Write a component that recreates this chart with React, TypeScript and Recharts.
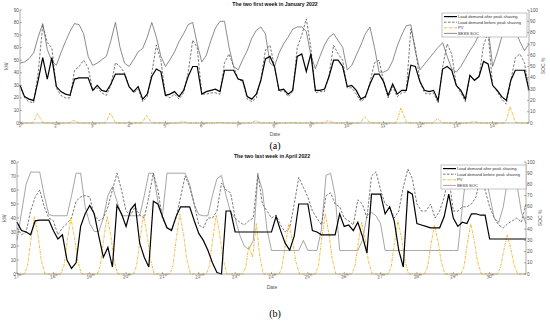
import React from 'react';
import { LineChart, Line, XAxis, YAxis } from 'recharts';

const FONT = '"Liberation Sans", Arial, sans-serif';

// ---------- Panel (a): first two weeks of January 2022 (3-hour samples, kW) ----------
const janAfter = [
  30, 21, 19, 18, 34, 52, 35, 52,
  29, 25, 23, 22, 35, 36, 36, 36,
  26, 30, 26, 25, 31, 39, 39, 39,
  29, 25, 29, 19, 23, 37, 43, 41,
  22, 23, 25, 21, 26, 37, 45, 45,
  23, 25, 26, 27, 25, 42, 42, 42,
  35, 34, 21, 19, 23, 34, 51, 53,
  45, 26, 27, 23, 26, 53, 55, 41,
  55, 26, 26, 27, 37, 50, 50, 45,
  29, 30, 26, 19, 21, 31, 39, 39,
  33, 22, 31, 23, 26, 26, 46, 45,
  33, 26, 25, 26, 18, 43, 45, 42,
  30, 26, 19, 38, 34, 37, 49, 47,
  30, 26, 21, 18, 34, 42, 42, 42,
  26,
];
const janBefore = [
  30, 20, 17, 16, 40, 78, 64, 60,
  28, 22, 20, 20, 42, 45, 50, 44,
  26, 28, 24, 22, 30, 48, 45, 40,
  29, 24, 27, 17, 21, 40, 62, 50,
  22, 20, 23, 19, 24, 40, 66, 60,
  23, 23, 24, 24, 23, 48, 55, 45,
  35, 33, 19, 17, 20, 35, 58, 62,
  45, 25, 26, 21, 25, 60, 70, 83,
  60, 24, 25, 25, 38, 62, 55, 50,
  28, 28, 23, 17, 20, 32, 48, 50,
  33, 20, 29, 21, 24, 25, 75, 60,
  33, 24, 23, 24, 16, 45, 63, 55,
  30, 24, 17, 38, 34, 37, 62, 72,
  30, 25, 19, 15, 34, 52, 55, 48,
  26,
];
// SOC in %
const janSoc = [
  53, 54, 57, 62, 76, 88, 65, 55,
  51, 62, 72, 81, 88, 87, 79, 59,
  51, 53, 56, 59, 73, 89, 67, 53,
  50, 56, 63, 66, 76, 89, 76, 59,
  50, 56, 63, 72, 79, 87, 89, 70,
  54, 60, 73, 84, 90, 90, 67, 50,
  47, 56, 64, 75, 82, 85, 79, 53,
  50, 62, 70, 76, 83, 85, 85, 81,
  60, 48, 59, 69, 76, 79, 73, 67,
  47, 51, 60, 69, 79, 85, 67, 45,
  45, 47, 55, 68, 78, 86, 87, 63,
  47, 52, 57, 62, 67, 71, 59, 48,
  45, 50, 57, 64, 70, 78, 82, 84,
  50, 62, 76, 88, 96, 82, 72, 64,
  70,
];
const janPvHours = [0, 8, 9.5, 10.5, 11.5, 13, 15, 18];
const janPv = [
  0, 0, 2, 5, 7.5, 4.5, 0.3, 0,
  0, 0, 0.6, 1.4, 2, 1.2, 0.1, 0,
  0, 0, 2.4, 5.6, 8, 4.8, 0.4, 0,
  0, 0, 1.8, 4.2, 6, 3.6, 0.3, 0,
  0, 0, 0.5, 1, 1.5, 0.9, 0.1, 0,
  0, 0, 0.2, 0.4, 0.5, 0.3, 0, 0,
  0, 0, 0.6, 1.4, 2, 1.2, 0.1, 0,
  0, 0, 0.1, 0.2, 0.3, 0.2, 0, 0,
  0, 0, 0.6, 1.4, 2, 1.2, 0.1, 0,
  0, 0, 1.5, 3.5, 5, 3, 0.3, 0,
  0, 0, 3.6, 8.4, 12, 7.2, 0.6, 0,
  0, 0, 1, 2.5, 3.5, 2.1, 0.2, 0,
  0, 0, 0.5, 1, 1.5, 0.9, 0.1, 0,
  0, 0, 3.9, 9, 13, 7.8, 0.6, 0,
  0,
];

// ---------- Panel (b): last two weeks of April 2022 ----------
const aprAfter = [
  37, 31, 30, 28, 38, 38.5, 38.5, 38.5,
  31, 25, 28, 10, 4, 8, 34, 43,
  49, 43, 27, 12, 19, 5, 49, 43,
  34, 46, 50, 22, 12, 5, 52, 50,
  41, 33, 31, 41, 48, 48, 48, 38,
  29, 24, 17, 8, 1, 0, 45, 45,
  30, 30, 30, 30, 30, 30, 30, 30,
  30, 41, 31, 22, 17, 27, 50, 50,
  50, 31, 30, 28, 28, 28, 28, 43,
  34, 35, 31, 37, 27, 15, 57, 57,
  57, 43, 48, 38, 17, 5, 59, 57,
  36, 35, 34, 33, 33, 33, 41, 57,
  40, 34, 37, 36, 43, 43, 42, 42,
  25, 25, 25, 25, 25, 25, 25, 25,
  25,
];
const aprBefore = [
  33, 28, 30, 45, 55, 60, 48, 40,
  38, 28, 33, 36, 40, 52, 55, 56,
  55, 42, 38, 40, 48, 60, 72, 60,
  45, 42, 48, 42, 40, 55, 72, 60,
  40, 33, 32, 40, 55, 70, 62, 50,
  35, 33, 40, 40, 45, 65, 60, 58,
  40, 37, 35, 38, 40, 72, 50, 45,
  40, 42, 35, 30, 33, 50, 69, 62,
  55, 45, 40, 35, 56, 58, 50, 48,
  40, 38, 35, 53, 50, 40, 70, 73,
  60, 50, 48, 40, 45, 62, 75, 68,
  50, 45, 45, 50, 40, 45, 55, 70,
  45, 45, 48, 48, 50, 55, 70, 60,
  48, 40, 35, 33, 36, 38, 40, 37,
  50,
];
const aprSoc = [
  30, 55, 80, 91, 91, 91, 70, 53,
  52, 52, 52, 52, 70, 90, 90, 60,
  45, 38, 38, 50, 70, 78, 65, 52,
  52, 52, 52, 52, 70, 90, 90, 65,
  52, 90, 90, 90, 90, 90, 80, 62,
  53, 52, 52, 70, 85, 88, 70, 55,
  50, 35, 25, 22, 30, 88, 75, 40,
  21, 21, 21, 21, 21, 21, 21, 30,
  21, 21, 21, 40, 88, 90, 70, 21,
  21, 21, 21, 21, 30, 52, 55, 52,
  45, 21, 21, 21, 21, 21, 21, 21,
  21, 21, 21, 21, 21, 21, 21, 21,
  21, 21, 60, 95, 95, 95, 95, 90,
  70, 50, 46, 60, 85, 95, 80, 55,
  45,
];
const aprPvHours = [0, 5, 7, 9, 11.5, 14, 16, 18.5];
const aprPv = [
  0, 0, 6, 23, 41, 27, 10, 0,
  0, 0, 6, 22, 40, 26, 10, 0,
  0, 0, 6, 23, 41, 27, 10, 0,
  0, 0, 6, 23, 42, 27, 11, 0,
  0, 0, 6, 24, 43, 28, 11, 0,
  0, 0, 6, 23, 42, 27, 11, 0,
  0, 0, 5, 20, 12, 36, 15, 0,
  0, 0, 5, 20, 36, 23, 9, 0,
  0, 0, 6, 24, 43, 28, 11, 0,
  0, 0, 5, 20, 37, 24, 9, 0,
  0, 0, 5, 21, 38, 25, 10, 0,
  0, 0, 5, 19, 35, 23, 9, 0,
  0, 0, 5, 20, 36, 23, 9, 0,
  0, 0, 4, 15, 28, 18, 7, 0,
  0,
];

const janDayLabels = ['1st', '2nd', '3rd', '4th', '5th', '6th', '7th', '8th', '9th', '10th', '11th', '12th', '13th', '14th'];
const aprDayLabels = ['17th', '18th', '19th', '20th', '21st', '22nd', '23rd', '24th', '25th', '26th', '27th', '28th', '29th', '30th'];
const dayTicks = [0, 1, 2, 3, 4, 5, 6, 7, 8, 9, 10, 11, 12, 13];
const janKwTicks = [0, 10, 20, 30, 40, 50, 60, 70, 80, 90];
const aprKwTicks = [0, 10, 20, 30, 40, 50, 60, 70, 80];
const socTicks = [0, 10, 20, 30, 40, 50, 60, 70, 80, 90, 100];

const legendNames = ['Load demand after peak shaving', 'Load demand before peak shaving', 'PV', 'BESS SOC'];

const every3h = (vals: number[]) => vals.map((v, i) => ({ x: i / 8, v }));
const onHours = (vals: number[], hours: number[]) =>
  vals.map((v, i) => ({ x: Math.floor(i / hours.length) + hours[i % hours.length] / 24, v }));

const AXIS = '#777';
const TXT = '#555';

const makeDayTick = (labels: string[]) => (props: any) => {
  const { x, payload } = props;
  const y0 = props.y;
  const lab = labels[payload.value] ?? '';
  const m = lab.match(/^(\d+)(\D+)$/) || [lab, lab, ''];
  const tx = x + 1;
  const ty = y0 + 6;
  return (
    <text x={tx} y={ty} textAnchor="middle" fontSize={4.8} fill={TXT} fontFamily={FONT}
      transform={`rotate(-8 ${tx} ${ty})`}>
      {m[1]}
      <tspan fontSize={3.3} dy={-1.8}>{m[2]}</tspan>
    </text>
  );
};
const leftTick = (props: any) => (
  <text x={props.x - 3} y={props.y + 1.6} textAnchor="end" fontSize={4.8} fill={TXT} fontFamily={FONT}>
    {props.payload.value}
  </text>
);
const rightTick = (props: any) => (
  <text x={props.x + 3} y={props.y + 1.6} textAnchor="start" fontSize={4.8} fill={TXT} fontFamily={FONT}>
    {props.payload.value}
  </text>
);

type PanelProps = {
  after: number[]; before: number[]; soc: number[]; pv: number[]; pvHours: number[];
  kwMax: number; kwTicks: number[]; labels: string[];
  height: number; marginTop: number; leftW: number; rightW: number; xH: number; socColor: string;
};

const Panel = (p: PanelProps) => (
  <LineChart width={550} height={p.height} margin={{ top: p.marginTop, right: 0, bottom: 0, left: 0 }}>
    <XAxis xAxisId="top" orientation="top" type="number" dataKey="x" domain={[0, 14]} height={0}
      tick={false} tickLine={false} axisLine={{ stroke: AXIS, strokeWidth: 0.6 }} />
    <XAxis type="number" dataKey="x" domain={[0, 14]} ticks={dayTicks} height={p.xH}
      tickSize={-2} tickMargin={0} tickLine={{ stroke: AXIS, strokeWidth: 0.6 }}
      axisLine={{ stroke: AXIS, strokeWidth: 0.6 }} tick={makeDayTick(p.labels)} interval={0} />
    <YAxis yAxisId="l" orientation="left" type="number" domain={[0, p.kwMax]} ticks={p.kwTicks} width={p.leftW}
      tickSize={-2} tickMargin={0} tickLine={{ stroke: AXIS, strokeWidth: 0.6 }}
      axisLine={{ stroke: AXIS, strokeWidth: 0.6 }} tick={leftTick} interval={0} />
    <YAxis yAxisId="r" orientation="right" type="number" domain={[0, 100]} ticks={socTicks} width={p.rightW}
      tickSize={-2} tickMargin={0} tickLine={{ stroke: AXIS, strokeWidth: 0.6 }}
      axisLine={{ stroke: AXIS, strokeWidth: 0.6 }} tick={rightTick} interval={0} />
    <Line yAxisId="r" data={every3h(p.soc)} dataKey="v" type="linear" stroke={p.socColor} strokeWidth={0.75}
      dot={false} isAnimationActive={false} />
    <Line yAxisId="l" data={every3h(p.before)} dataKey="v" type="linear" stroke="#555" strokeWidth={0.8}
      strokeDasharray="2.5 1.5" dot={false} isAnimationActive={false} />
    <Line yAxisId="l" data={onHours(p.pv, p.pvHours)} dataKey="v" type="linear" stroke="#EDB120" strokeWidth={0.9}
      strokeDasharray="2.5 1 0.8 1" dot={false} isAnimationActive={false} />
    <Line yAxisId="l" data={every3h(p.after)} dataKey="v" type="linear" stroke="#000" strokeWidth={1.2}
      dot={false} isAnimationActive={false} />
  </LineChart>
);

const LegendBox = ({ x, y, socColor }: { x: number; y: number; socColor: string }) => {
  const styles = [
    { stroke: '#000', w: 1.2, dash: undefined },
    { stroke: '#555', w: 0.8, dash: '2.5 1.5' },
    { stroke: '#EDB120', w: 0.9, dash: '2.5 1 0.8 1' },
    { stroke: socColor, w: 0.75, dash: undefined },
  ];
  return (
    <g>
      <rect x={x} y={y} width={85} height={24} fill="#fff" stroke="#888" strokeWidth={0.5} />
      {legendNames.map((n, i) => {
        const ry = y + 3.6 + i * 5.6;
        return (
          <g key={n}>
            <line x1={x + 2} x2={x + 15} y1={ry} y2={ry} stroke={styles[i].stroke} strokeWidth={styles[i].w}
              strokeDasharray={styles[i].dash} />
            <text x={x + 16} y={ry + 1.4} fontSize={4.1} fill="#333" fontFamily={FONT}>{n}</text>
          </g>
        );
      })}
    </g>
  );
};

export default function App() {
  return (
    <div style={{ position: 'absolute', left: 0, top: 0, width: 550, height: 325, background: '#fff', overflow: 'hidden' }}>
      <div style={{ position: 'absolute', left: 0, top: 0 }}>
        <Panel after={janAfter} before={janBefore} soc={janSoc} pv={janPv} pvHours={janPvHours}
          kwMax={90} kwTicks={janKwTicks} labels={janDayLabels}
          height={140} marginTop={10} leftW={20} rightW={21} xH={17} socColor="#666" />
      </div>
      <div style={{ position: 'absolute', left: 0, top: 150 }}>
        <Panel after={aprAfter} before={aprBefore} soc={aprSoc} pv={aprPv} pvHours={aprPvHours}
          kwMax={80} kwTicks={aprKwTicks} labels={aprDayLabels}
          height={140} marginTop={12} leftW={17} rightW={24} xH={16} socColor="#888" />
      </div>
      <svg width={550} height={325} style={{ position: 'absolute', left: 0, top: 0, pointerEvents: 'none' }}>
        <text x={275} y={6} textAnchor="middle" fontSize={5.2} fontWeight="bold" fill="#111" fontFamily={FONT}>
          The two first week in January 2022
        </text>
        <text x={272} y={158} textAnchor="middle" fontSize={5.2} fontWeight="bold" fill="#111" fontFamily={FONT}>
          The two last week in April 2022
        </text>
        <text x={8} y={66} textAnchor="middle" fontSize={5} fill={TXT} fontFamily={FONT} transform="rotate(-90 8 66)">kW</text>
        <text x={6} y={218} textAnchor="middle" fontSize={5} fill={TXT} fontFamily={FONT} transform="rotate(-90 6 218)">kW</text>
        <text x={545} y={66} textAnchor="middle" fontSize={5} fill={TXT} fontFamily={FONT} transform="rotate(-90 545 66)">SOC %</text>
        <text x={542} y={218} textAnchor="middle" fontSize={5} fill={TXT} fontFamily={FONT} transform="rotate(-90 542 218)">SOC %</text>
        <text x={275} y={136} textAnchor="middle" fontSize={5} fill={TXT} fontFamily={FONT}>Date</text>
        <text x={272} y={289} textAnchor="middle" fontSize={5} fill={TXT} fontFamily={FONT}>Date</text>
        <text x={275} y={149} textAnchor="middle" fontSize={10} fill="#000" fontFamily='"Liberation Serif", serif'>(a)</text>
        <text x={275} y={317} textAnchor="middle" fontSize={10} fill="#000" fontFamily='"Liberation Serif", serif'>(b)</text>
        <LegendBox x={442} y={13} socColor="#666" />
        <LegendBox x={441} y={165} socColor="#888" />
      </svg>
    </div>
  );
}
